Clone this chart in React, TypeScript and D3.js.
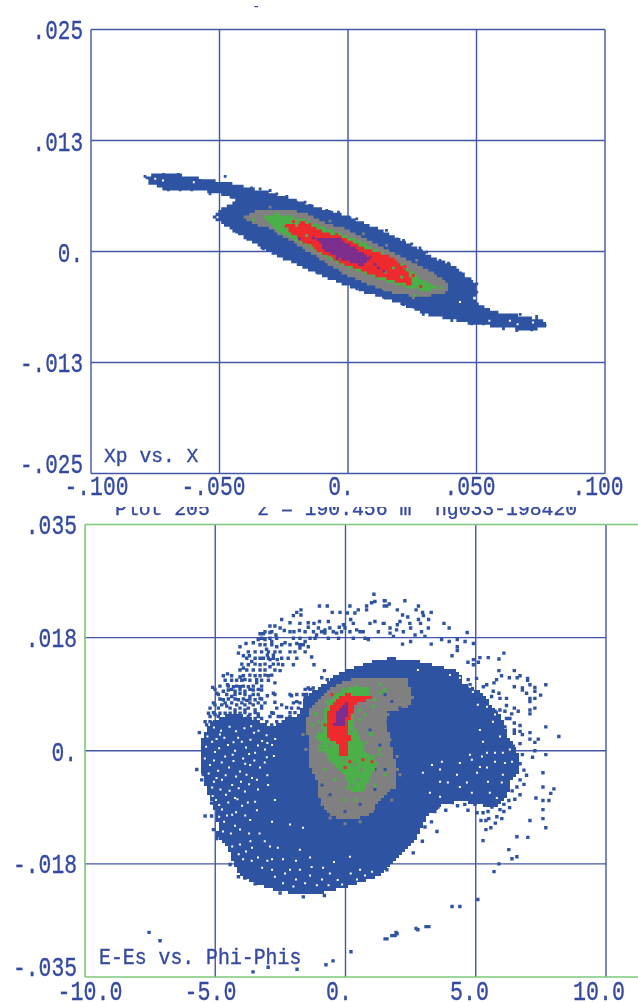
import React from "react";
import * as d3 from "d3";

type P = [number, number];

// ---- Upper panel: Xp vs. X  (x in 1e-3, xp in 1e-4) ----
const topXTicks = [-100, -50, 0, 50, 100];
const topXLabels = ["-.100", "-.050", "0.", ".050", ".100"];
const topXLabelCentres = [96.5, 213.5, 341, 470, 598];
const topYTicks = [250, 125, 0, -125, -250];
const topYLabels = [".025", ".013", "0.", "-.013", "-.025"];

const topBlue: P[] = [[-79.6,84.5],[-73.2,88.2],[-65.4,86.7],[-56.3,81.8],[-47.2,78],[-40.7,73.2],[-30.4,66.8],[-22.6,60.4],[-12.2,49.9],[-3.1,42.4],[5.9,33],[16.3,19.9],[25.4,6.8],[33.2,-6.4],[42.3,-17.7],[50.1,-38.3],[48.9,-55.2],[57.9,-68.3],[66.9,-72],[75.9,-77.7],[77.3,-85.2],[70.8,-89],[57.9,-85.2],[47.5,-81.4],[38.4,-75.8],[29.3,-70.2],[19,-57.1],[6,-45.8],[-4.4,-34.5],[-14.8,-21.4],[-26.5,-6.4],[-34.2,4.8],[-40.7,16.1],[-47.2,27.4],[-52.4,38.6],[-49.8,48.1],[-43.3,57.4],[-49.8,65],[-58.9,68.7],[-70.5,68.7],[-77,76.2]];
const topGrey: P[] = [[-40.7,38.6],[-35.5,46.2],[-26.5,48.1],[-17.4,44.3],[-9.6,33],[-0.5,25.5],[8.6,12.4],[17.6,-0.8],[26.7,-13.9],[35.8,-28.9],[39.7,-38.3],[38.4,-45.8],[29.3,-51.5],[19,-47.7],[8.6,-38.3],[-1.8,-25.1],[-12.2,-6.4],[-22.6,12.4],[-30.4,25.5],[-36.8,31.2]];
const topGreen: P[] = [[-33.6,40.5],[-27.7,42.4],[-17.4,36.8],[-8.3,25.5],[0.8,16.1],[9.8,3],[19,-10.1],[26.7,-27],[32.6,-38.3],[35.8,-42],[29.3,-43.9],[20.2,-38.3],[8.6,-27],[-1.8,-15.8],[-10.9,-2.6],[-20,12.4],[-27.7,23.6]];
const topRed: P[] = [[-24.5,31.2],[-17.4,33],[-10.9,23.6],[-1.8,16.1],[7.3,3],[17,-6.4],[22.8,-21.4],[25.4,-38.3],[19,-34.5],[8.6,-25.1],[-1.8,-13.9],[-10.9,-0.8],[-18.7,12.4],[-23.2,23.6]];
const topPurple: P[] = [[-12.2,14.3],[-4.4,16.1],[3.4,3],[8.6,-8.2],[6,-15.8],[-1.8,-10.1],[-8.3,-0.8]];

const topBlueDots: P[] = [[-79,84.5],[-71.8,86.7],[-66,86.7],[-47.8,84.5],[-42,73.2],[-37.5,71.7],[-34.2,70.6],[-30.3,68.7],[-23.8,62],[-16.7,55.6],[-10.9,48.1],[-6.3,44.3],[-3.7,44.3],[3.4,36.8],[10.5,25.5],[21.6,12.4],[28,4.1],[39.1,-13.1],[44.9,-25.1],[50.1,-45.8],[45.5,-58.9],[67,-70.9],[73.4,-73.2],[76.7,-83.3],[71.5,-88.2],[65.7,-89],[48.1,-81.4],[40.4,-77.7],[29.3,-70.9],[21.6,-59.7],[17.7,-55.2],[11.2,-49.5],[3.4,-42],[-1.8,-34.5],[-7,-27],[-14.1,-19.5],[-27.1,-4.5],[-40.1,15.4],[-43.3,21.8],[-69.9,69.5],[-60.8,69.5],[-53.7,65],[-75.7,85.6],[-73.8,76.2],[-65.3,69.5],[-57.6,80],[-52.4,79.2],[-45.9,75.5],[-39.4,70.6],[-33.6,63.1],[-27.7,65],[-20,55.6],[-14.8,51.8],[-8.3,46.2],[0.8,37.9],[8.6,25.5],[15,23.7],[19,14.3],[24.8,8.6],[30.6,-0.7],[35.8,-10.1],[41.7,-19.5],[47.5,-30.8],[50.1,-36.4],[13.8,-51.4],[-12.2,-23.3],[-20,-10.1],[-23.8,-8.2],[-32.9,3],[-36.8,12.4],[29.3,-64.5],[25.4,-62.7],[20.9,-55.2],[39.7,-74],[52.7,-81.4],[60.5,-87.1],[71.5,-87.1],[73.4,-75.8],[57.9,-68.3],[51.4,-64.5]];
const topWhiteDots: P[] = [[-50.8,38.7],[-45.9,58.2],[43.6,-57],[-72,80],[-60,78],[55,-78],[66,-82],[72,-80],[-75,82],[63,-78]];
const topGreyDots: P[] = [[-30.3,50],[-7,34.2],[6,19.9],[15,6.9],[26.7,-10.1],[13.8,-42],[3.4,-30.8],[-7,-13.9],[25.4,-52.2]];
const topGreenDots: P[] = [[-36.8,35.7],[36.5,-40.9],[26.1,-49.5],[-20,29.3],[-16.1,18],[-8.3,4.1],[6.6,8.6],[14.4,-23.3],[20.9,-28.9],[17.7,-18.4],[-14.8,6.8],[-7,-6.4]];
const topRedDots: P[] = [[-21.2,33.8],[-24.1,28.2],[23.5,-33.4],[25.4,-27],[22.2,-16.9],[28.3,-39.4],[-4.4,19.2],[-14.8,30.4],[-3,-9],[2,-12]];
const topPurpleDots: P[] = [[-13.5,15.4],[-18.9,14.3],[-9.6,4.1],[-4.1,-8.2],[10.5,-14.6],[14,-22.1],[11.8,-18.4],[4.7,-4.5],[8.6,-6.4]];

// ---- Lower panel: E-Es vs. Phi-Phis  (phi as drawn, dE in 1e-4) ----
const botXTicks = [-10, -5, 0, 5, 10];
const botXLabels = ["-10.0", "-5.0", "0.", "5.0", "10.0"];
const botXLabelCentres = [90, 210.5, 339, 469.5, 599];
const botYTicks = [350, 175, 0, -175, -350];
const botYLabels = [".035", ".018", "0.", "-.018", "-.035"];

const botBlue: P[] = [[-1.86,52.5],[-1.63,68],[-1.55,83.5],[-0.98,98.9],[-0.48,114.4],[0.06,125.2],[0.94,137.6],[1.71,143.7],[2.59,140.6],[3.36,132.9],[4.39,122.1],[4.51,105.1],[5.05,94.3],[5.54,74.2],[6.04,47.9],[6.24,21.6],[6.58,1.5],[6.7,-29.4],[6.39,-44.8],[6.2,-71.1],[5.81,-86.6],[5.16,-84],[4.4,-78],[3.74,-84],[3.13,-102],[2.86,-126.7],[2.48,-148.4],[1.98,-168.5],[1.44,-188.6],[0.94,-199.4],[0.06,-210.2],[-0.86,-219.5],[-1.63,-222.6],[-2.51,-217.9],[-3.55,-204],[-4.05,-194.7],[-4.32,-173.1],[-4.55,-148.4],[-4.93,-134.5],[-4.89,-111.3],[-5.12,-80.4],[-5.28,-64.9],[-5.51,-34],[-5.58,-18.5],[-5.51,17],[-5.2,43.3],[-4.43,58.7],[-3.66,52.5],[-3.28,43.3],[-2.78,37.1],[-2.24,51]];
const botGrey: P[] = [[-1.55,43],[-1.36,63],[-0.98,83],[-0.48,99],[0.17,110],[1.06,114],[2.36,113],[2.59,83],[2.4,68],[1.65,60],[1.6,40],[1.78,2],[2.01,-29],[1.9,-57],[1.52,-68],[0.82,-102],[-0.21,-107],[-0.71,-96],[-0.98,-76],[-1.09,-45],[-1.36,-25],[-1.4,9]];
const botGreen: P[] = [[-0.86,48],[-0.71,74],[-0.21,91],[0.29,99],[0.94,97],[0.94,83],[0.36,74],[0.29,43],[0.56,17],[0.94,-9],[1.21,-19],[1.06,-34],[0.67,-65],[0.17,-63],[0.06,-45],[-0.33,-25],[-0.71,-9],[-1.06,22]];
const botRed: P[] = [[-0.67,60],[-0.48,74],[0.06,90],[0.29,83],[0.94,87],[1.06,82],[0.44,74],[0.1,43],[0.17,17],[0.06,-9],[-0.29,-9],[-0.29,9],[-0.67,20]];
const botPurple: P[] = [[-0.29,66],[0.06,74],[0.06,53],[-0.1,36],[-0.48,36],[-0.33,51]];

const haloLeft: P[] = [[1.09,242],[1,229],[1.13,231],[1.52,232],[1.58,224],[0.81,224],[0.81,218],[0.49,218],[0.36,213],[0.17,224],[0.07,213],[-0.21,214],[-0.51,214],[-0.7,224],[-1,224],[-1.71,218],[-1.71,210],[-1.87,214],[-2,209],[-2.45,203],[-2.9,193],[-2.71,193],[-2.13,198],[-1.75,197],[-1.43,198],[-1.21,197],[-0.66,200],[-1,200],[0.2,203],[0.3,197],[-0.08,195],[-0.24,191],[-0.6,190],[-0.79,187],[-1.04,190],[-1.43,191],[-1.77,186],[-1.98,184],[-2.35,186],[-2.51,190],[-2.67,179],[-2.9,183],[-3.28,181],[-3.15,181],[-3.35,172],[-3.09,172],[-2.83,169],[-2.32,167],[-3.82,166],[-4.05,161],[-3.28,164],[-3.03,157],[-2.64,161],[-2.13,164],[-1.87,166],[-1.55,169],[-1.36,174],[-1.11,179],[-0.79,182],[-0.34,182],[-0.02,190],[0.43,187],[0.68,184],[0.94,197],[1.13,200],[1.45,197],[1.26,184],[0.88,172],[-3.54,167],[-4.11,151],[-3.92,147],[-3.69,147],[-3,148],[-2.77,148],[-2.51,153],[-2.13,153],[-1.75,159],[-1.43,161],[-1.3,145],[-1.21,133],[-1.87,143],[-2,133],[-2.41,133],[-2.62,141],[-2.9,141],[-3.15,143],[-3.6,138],[-3.73,133],[-3.92,128],[-3.28,133],[-2.9,130],[-2.51,124],[-0.81,124],[-0.91,113],[-0.7,110],[-4.69,116],[-4.53,119],[-4.62,109],[-4.53,102],[-4.05,114],[-3.86,110],[-3.67,117],[-3.41,110],[-3.09,117],[-2.83,117],[-5.1,98],[-4.94,89],[-4.69,92],[-4.3,99],[-4.05,99],[-3.73,99],[-3.41,105],[-2.71,105],[-1.43,97],[-1.55,84],[-1.24,97],[-2.77,89],[-3,85],[-2.07,85],[-1.87,76],[-2.71,75],[-2.45,71],[-2.26,67],[-3.28,81],[-3.67,84],[-4.05,89],[-4.37,84],[-4.69,79],[-5.01,71],[-4.56,69],[-4.18,71],[-3.86,71],[-3.54,71],[-3.22,69],[-4.82,58],[-4.43,58],[-4.05,58],[-3.67,56],[-3.35,57],[-2.77,58],[-2.58,53],[-2.26,50],[-5.26,58],[-5.01,56],[-4.69,48],[-4.3,45],[-3.92,45],[-3.54,45],[-3.22,50],[-5.39,45],[-5.07,43],[-5.61,28],[-5.2,35],[-4.75,37],[-4.5,94],[-4.24,92],[-3.86,92],[-3.54,94],[-3.22,94],[-4.75,71],[-4.37,74],[-4.11,79],[-3.79,78],[-3.47,79],[-4.43,50],[-4.11,50],[-3.79,50],[-3.47,50],[-4.24,63],[-3.86,63],[-3.47,63],[-4.62,58],[-4.88,45],[-4.56,40],[-4.24,38],[-3.92,39],[-3.6,40],[-3.28,40]];
const haloDense: P[] = [[-3.09,184],[-2.83,184],[-2.13,184],[-1.55,184],[-1.23,184],[-0.92,184],[-0.47,184],[-0.15,184],[0.17,184],[0.56,184],[-3.22,174],[-2.9,174],[-2.64,174],[-2,174],[-1.75,174],[-1.17,174],[-0.66,174],[-0.27,174],[0.3,174],[0.75,174],[-3.09,164],[-2.83,164],[-2.45,164],[-1.75,164],[-1.62,164],[-3.73,153],[-3.47,153],[-3.22,153],[-2.96,153],[-2.71,153],[-1.94,153],[-1.55,153],[-3.79,143],[-3.47,143],[-3.28,143],[-2.96,143],[-2.77,143],[-2.45,143],[-2.2,143],[-3.98,134],[-3.47,134],[-3.09,134],[-2.77,134],[-2.58,134],[-4.05,125],[-3.79,125],[-3.54,125],[-3.28,125],[-3.09,125],[-2.71,125],[-4.37,116],[-3.92,116],[-3.47,116],[-3.28,116],[-2.96,116],[-4.37,109],[-4.18,109],[-3.98,109],[-3.67,109],[-3.22,109],[-2.96,109],[-4.82,100],[-4.5,100],[-4.18,100],[-3.92,100],[-3.54,100],[-3.22,100],[-5.01,95],[-4.37,95],[-4.05,95],[-3.67,95],[-3.35,95],[-1.55,95],[-1.36,95],[-4.88,87],[-4.56,87],[-4.24,87],[-3.86,87],[-3.54,87],[-3.35,87],[-2.71,87],[-2.13,87],[-1.87,87],[-1.62,87],[-1.49,87],[-4.82,80],[-4.5,80],[-4.24,80],[-3.92,80],[-3.67,80],[-3.22,80],[-1.55,80],[-5.07,74],[-4.62,74],[-3.98,74],[-3.67,74],[-3.35,74],[-3.09,74],[-2,74],[-1.75,74],[-5.2,66],[-4.88,66],[-4.43,66],[-4.05,66],[-3.73,66],[-3.22,66],[-2.64,66],[-2.07,66],[-1.81,66],[-5.07,59],[-4.24,59],[-3.86,59],[-3.47,59],[-2.83,59],[-2.13,59],[-1.94,59],[-5.2,53],[-4.88,53],[-4.5,53],[-4.11,53],[-3.73,53],[-3.35,53],[-2.9,53],[-2.45,53],[-2.13,53],[-5.2,45],[-4.5,45],[-4.11,45],[-3.73,45],[-3.35,45],[-3.02,45],[-2.64,45],[-2.39,45],[-5.33,40],[-5.01,40],[-4.37,40],[-4.05,40],[-3.09,40],[-2.83,40],[-2.51,40]];
const haloRight: P[] = [[1.49,232],[1.68,227],[2.28,232],[1.49,224],[2.8,224],[1.99,218],[2.71,218],[2.96,214],[3.29,214],[2.19,210],[2.39,207],[2.8,203],[3.19,203],[2.99,209],[1.48,197],[1.99,195],[2.09,200],[2.47,197],[2.88,197],[2.5,190],[3.78,197],[3.98,190],[3.18,190],[1.71,190],[1.96,187],[2.22,184],[2.67,179],[2.92,184],[3.05,177],[1.84,177],[1.71,182],[4.67,183],[3.69,172],[3.98,169],[4.29,172],[4.59,169],[4.91,166],[2.19,165],[2.5,169],[3.29,165],[4.29,161],[4.29,155],[4.09,147],[6.08,151],[5.16,144],[5.48,144],[5.89,142],[4.7,137],[4.91,141],[5.1,137],[4.91,133],[5.89,124],[6.48,124],[5.99,116],[6.59,113],[6.29,113],[6.7,116],[6.99,112],[6.99,109],[5.8,110],[5.7,105],[7.69,102],[7.08,102],[7.27,98],[6.48,99],[6.79,97],[6.79,94],[6.95,89],[7.27,92],[7.49,86],[5.67,92],[5.89,89],[5.61,84],[5.93,81],[6.18,81],[7.08,81],[7.27,81],[7.08,76],[6.18,70],[7.27,66],[7.08,63],[6.48,66],[6.63,61],[7.08,57],[6.38,57],[6.18,50],[6.48,43],[6.7,39],[7.69,37],[6.48,32],[6.7,30],[6.48,27],[7.08,28],[6.79,25],[8.19,22],[7.4,18],[7.08,18],[7.27,13],[6.7,11],[6.44,7],[7.27,0],[6.79,-6],[7.69,-6],[7.18,-10],[6.7,-20],[6.59,-24],[5.03,112],[4.71,110],[4.78,102],[5.29,99],[5.42,102],[5.29,81],[5.54,68],[5.74,61],[5.93,63],[6.12,61],[6.31,50],[5.86,50],[6.12,37],[6.25,17],[6.38,7]];
const lowerRight: P[] = [[3.43,-94],[3.55,-87],[4.51,-73],[4.58,-83],[4.97,-83],[5.05,-96],[5.28,-96],[5.47,-94],[5.62,-87],[5.81,-102],[5.93,-91],[6.08,-94],[6.08,-83],[6.27,-77],[6.58,-56],[6.7,-45],[6.7,-68],[5.39,-108],[5.39,-122],[5.58,-119],[5.28,-139],[3.51,-125],[6.27,-153],[6.39,-167],[6.58,-164],[6.58,-133],[7,-134],[7.08,-108],[7.58,-105],[7.69,-119],[7.58,-91],[7.58,-77],[7.81,-77],[7.88,-66],[8,-59],[7.58,-56],[7.31,-73],[7.58,-34],[6.7,-20],[6.58,-25],[5.89,-175],[5.7,-187],[5.08,-230],[4.09,-241],[4.39,-241],[3.2,-272],[2.78,-277],[1.98,-283],[1.9,-286],[1.59,-291],[1.59,-184],[4.2,-72],[4.3,-85],[4.7,-92],[3.85,-92],[4.1,-80],[4.9,-72],[5.5,-105],[6,-105],[5.2,-108],[5.75,-112],[6.3,-88],[6.5,-75],[6.4,-62],[6.85,-52],[6.95,-38],[6.85,-30],[3.3,-110],[3.05,-118],[2.95,-140],[2.6,-158]];
const bottomStray: P[] = [[-7.54,-281],[-7.12,-294],[-3.55,-342],[-2.97,-335],[-1.86,-338],[-0.75,-331],[-0.48,-325],[0.21,-311],[1.52,-291],[1.78,-286],[1.94,-281],[2.71,-275],[3.09,-272]];
const leftEdge: P[] = [[-5.71,-29],[-5.46,-37],[-5.39,-101],[-5.14,-101],[-5.07,-122],[-4.94,-136],[-4.43,-176],[-4.11,-195],[-3.86,-197],[-3.6,-192],[-3.47,-206],[-2.51,-220],[-1.62,-226],[-0.81,-224],[-5.2,-65],[-5.14,-81],[-5.52,-45]];
const botWhite: P[] = [[-5.12,14],[-4.82,25],[-4.51,9],[-4.12,20],[-3.82,5],[-3.51,28],[-3.2,15],[-5.01,-2],[-4.62,-9],[-4.24,0],[-3.93,-12],[-3.47,-3],[-3.09,2],[-2.82,9],[-5.2,-22],[-4.89,-31],[-4.47,-26],[-4.05,-32],[-3.66,-22],[-3.28,-26],[-4.74,-45],[-4.35,-53],[-5.12,-57],[-4.01,-48],[-3.59,-42],[-4.59,-68],[-4.97,-76],[-4.24,-73],[-3.86,-63],[-3.36,-60],[-4.74,-91],[-4.35,-99],[-3.97,-85],[-4.66,-110],[-4.24,-116],[-3.66,-107],[-4.05,-145],[-3.82,-156],[-3.59,-150],[-3.36,-165],[-2.9,-148],[-3.93,-168],[-3.2,-181],[-2.82,-184],[-2.71,-195],[-2.32,-190],[-1.9,-199],[-2.13,-184],[-1.75,-184],[-2.82,-168],[-1.36,-193],[-0.9,-199],[-0.86,-181],[-0.13,-207],[0.56,-184],[1.02,-187],[0.44,-199],[-1.75,-153],[-1.36,-165],[-0.44,-172],[0.17,-164],[-2.97,-53],[-2.71,-76],[-3.47,-79],[-2.82,-110],[-2.13,-114],[-1.63,-119],[2.78,125],[4.01,117],[4.39,113],[4.78,99],[4.89,91],[5.08,71],[5.43,68],[5.74,56],[5.66,45],[5.93,22],[5.16,32],[3.32,-22],[3.7,-17],[4.39,-19],[4.78,-6],[4.85,-14],[5.24,-9],[5.43,-3],[5.74,-3],[5.74,-17],[6.04,-3],[6.31,2],[5.28,14],[6.39,-17],[6.12,-19],[5.16,-25],[2.97,-34],[3.63,-29],[3.93,-49],[3.63,-48],[4.28,-37],[4.66,-49],[5.05,-34],[5.43,-26],[5.47,-48],[6,-49],[6.04,-37],[3.24,-65],[3.63,-71],[4.39,-56],[4.85,-65],[5.54,-65],[5.81,-73]];
const botWhiteLeft: P[] = [[-5.05,36],[-4.78,31],[-4.45,37],[-4.2,30],[-3.88,35],[-3.62,38],[-3.34,31],[-3.03,24],[-5.3,22],[-4.95,18],[-4.65,20],[-4.3,13],[-3.98,14],[-3.65,17],[-3.36,8],[-3,12],[-2.7,18],[-5.35,6],[-4.85,4],[-4.33,-6],[-3.7,-5],[-3.02,-10],[-5.4,-12],[-5.05,-15],[-4.75,-18],[-4.3,-16],[-3.85,-20],[-3.5,-15],[-3.1,-18],[-2.75,-8],[-5.25,-35],[-4.95,-42],[-4.6,-38],[-4.2,-40],[-3.8,-37],[-3.4,-45],[-3,-38],[-5.05,-48],[-4.8,-60],[-4.45,-62],[-4.1,-58],[-3.7,-52],[-5.1,-70],[-4.85,-84],[-4.5,-80],[-4.15,-75],[-3.75,-80],[-4.85,-102],[-4.55,-100],[-4.2,-95],[-3.85,-100],[-3.4,-92],[-4.7,-125],[-4.4,-128],[-4.05,-122],[-3.7,-128],[-3.3,-128],[-4.35,-148],[-3.65,-140],[-3.1,-140],[-2.6,-150],[-4.1,-160],[-3.6,-170],[-3,-170],[-2.4,-168],[-1.9,-170],[-1.3,-180],[-0.6,-190],[0.2,-190],[0.75,-193],[-2.4,-205],[-2,-210],[-1.55,-205],[-1.1,-208],[-0.65,-208],[-0.3,-200]];
const botGreyDots: P[] = [[1.9,94],[2.17,90],[2.47,79],[1.63,56],[1.71,17],[1.98,-9],[2.09,-37],[1.78,-76],[1.02,-94],[0.56,-110],[-0.02,-113],[-0.59,-104],[-0.9,-83],[-1.21,-32],[-1.63,25],[-1.52,2]];
const botBlueOnGrey: P[] = [[1.78,76],[2.09,66],[1.52,87],[1.63,45],[1.32,9],[1.13,-29],[1.52,-29],[1.13,-60],[0.56,-83],[-0.02,-94],[-0.59,-68],[-0.9,-53],[-1.17,-60],[0.94,32]];
const botGreenDots: P[] = [[-1.25,40],[-1.13,56],[1.13,79],[1.32,102],[1.52,94],[0.75,56],[1.02,25],[1.32,2],[-0.02,-76],[0.4,-76],[-0.4,-45],[-0.79,-29],[-0.98,2],[1.52,-37],[1.13,-53],[-1.17,58],[-1.04,45],[-1.11,22],[-0.98,7],[-0.85,2],[-0.6,-14],[-0.21,-29],[0.17,-40],[0.43,-55],[0.04,-58],[0.81,-24],[1.07,-9],[1.32,-6],[0.81,12],[0.94,27],[0.56,48],[0.56,63],[1.07,68],[0.81,92],[0.43,100],[-0.08,95],[-0.47,87],[-0.72,76],[1.32,89],[1.45,92]];
const botGreyHoles: P[] = [[-0.02,-14],[0.36,-22],[-0.21,9],[0.75,2],[-0.59,9],[0.25,-53],[0.48,-45],[0.25,30],[-0.9,30],[0.6,-30]];
const botRedDots: P[] = [[-0.02,-26],[0.17,-17],[0.67,-14],[-0.52,87],[-0.79,40],[1.02,-17]];

const COLORS = { blue: "#2f52a3", grey: "#808080", green: "#4cb04a", red: "#ee2a2f", purple: "#7b2e8e", line: "#4456a6", text: "#34499f", frame: "#7cc878" };
const FONT = "'Liberation Mono', 'DejaVu Sans Mono', monospace";

// Staircase fill of a polygon on the plotter's pixel grid, as one path.
function cells(poly: P[], sx: (v: number) => number, sy: (v: number) => number, step: number): string {
  const pts = poly.map(([a, b]) => [sx(a), sy(b)] as [number, number]);
  const xs = pts.map((p) => p[0]);
  const ys = pts.map((p) => p[1]);
  const [x0, x1] = [Math.floor(d3.min(xs)! / step), Math.ceil(d3.max(xs)! / step)];
  const [y0, y1] = [Math.floor(d3.min(ys)! / step), Math.ceil(d3.max(ys)! / step)];
  let d = "";
  for (const j of d3.range(y0, y1)) {
    let start: number | null = null;
    for (const i of d3.range(x0, x1 + 1)) {
      const inside = d3.polygonContains(pts, [(i + 0.5) * step, (j + 0.5) * step]);
      if (inside && start === null) start = i;
      if (!inside && start !== null) {
        d += `M${start * step} ${j * step}H${i * step}V${(j + 1) * step}H${start * step}Z`;
        start = null;
      }
    }
  }
  return d;
}

function dots(list: P[], sx: (v: number) => number, sy: (v: number) => number, size: number): string {
  return list
    .map(([a, b]) => `M${sx(a) - size / 2} ${sy(b) - size / 2}h${size}v${size}h${-size}Z`)
    .join("");
}

function Label({ x, y, s, w, size, anchor = "start" }: { x: number; y: number; s: string; w: number; size: number; anchor?: string }) {
  const len = s.length * w;
  const left = anchor === "end" ? x - len : anchor === "middle" ? x - len / 2 : x;
  return (
    <text x={left} y={y} fontFamily={FONT} fontSize={size} fill={COLORS.text} stroke={COLORS.text} strokeWidth={0.35} textLength={len} lengthAdjust="spacingAndGlyphs" style={{ whiteSpace: "pre" }}>
      {s}
    </text>
  );
}

export default function App() {
  const tx = d3.scaleLinear().domain([-100, 100]).range([91, 605]);
  const ty = d3.scaleLinear().domain([250, -250]).range([29.5, 473.5]);
  const bx = d3.scaleLinear().domain([-10, 10]).range([85, 606]);
  const by = d3.scaleLinear().domain([350, -350]).range([524.5, 977]);
  const T = 2.8;
  const B = 3;
  const D = 3.4;

  const topY = [39, 150.5, 261.5, 371.5, 473];
  const botY = [534, 647, 760.5, 873, 976];

  return (
    <svg width={638} height={1003} viewBox="0 0 638 1003" style={{ position: "absolute", left: 0, top: 0, display: "block", background: "#fff" }}>
      <defs>
        <filter id="soft" x="0" y="0" width="638" height="1003" filterUnits="userSpaceOnUse">
          <feGaussianBlur stdDeviation="0.4" />
        </filter>
        <filter id="softText" x="0" y="0" width="638" height="1003" filterUnits="userSpaceOnUse">
          <feGaussianBlur stdDeviation="0.3" />
        </filter>
        <clipPath id="cutTitle">
          <rect x={100} y={507} width={500} height={12} />
        </clipPath>
      </defs>

      {/* upper panel grid */}
      <g stroke={COLORS.line} strokeWidth={1.4} fill="none">
        {topXTicks.map((t) => (
          <line key={t} x1={tx(t)} x2={tx(t)} y1={ty(250)} y2={ty(-250)} />
        ))}
        {topYTicks.map((t) => (
          <line key={t} x1={tx(-100)} x2={tx(100)} y1={ty(t)} y2={ty(t)} />
        ))}
      </g>

      {/* lower panel grid */}
      <g stroke={COLORS.line} strokeWidth={1.4} fill="none">
        {botXTicks.slice(1).map((t) => (
          <line key={t} x1={bx(t)} x2={bx(t)} y1={by(350)} y2={by(-350)} />
        ))}
        {botYTicks.slice(1, 4).map((t) => (
          <line key={t} x1={bx(-10)} x2={bx(10)} y1={by(t)} y2={by(t)} />
        ))}
      </g>
      <g stroke={COLORS.frame} strokeWidth={1.6} fill="none">
        <line x1={bx(-10)} x2={638} y1={by(350)} y2={by(350)} />
        <line x1={bx(-10)} x2={638} y1={by(-350)} y2={by(-350)} />
        <line x1={bx(-10)} x2={bx(-10)} y1={by(350)} y2={by(-350)} />
      </g>

      {/* upper panel marks */}
      <g filter="url(#soft)">
        <path fill={COLORS.blue} d={cells(topBlue, tx, ty, T) + dots(topBlueDots, tx, ty, T)} />
        <path fill="#fff" d={dots(topWhiteDots, tx, ty, 2)} />
        <path fill={COLORS.grey} d={cells(topGrey, tx, ty, T) + dots(topGreyDots, tx, ty, T)} />
        <path fill={COLORS.green} d={cells(topGreen, tx, ty, T) + dots(topGreenDots.slice(0, 3), tx, ty, T)} />
        <path fill={COLORS.red} d={cells(topRed, tx, ty, T) + dots(topRedDots, tx, ty, T)} />
        <path fill={COLORS.green} d={dots(topGreenDots.slice(3), tx, ty, T)} />
        <path fill={COLORS.purple} d={cells(topPurple, tx, ty, T) + dots(topPurpleDots, tx, ty, T)} />
      </g>

      {/* lower panel marks */}
      <g filter="url(#soft)">
        <path fill={COLORS.blue} d={cells(botBlue, bx, by, B) + dots(haloLeft, bx, by, D) + dots(haloDense, bx, by, D) + dots(haloRight, bx, by, D) + dots(lowerRight, bx, by, D) + dots(bottomStray, bx, by, D) + dots(leftEdge, bx, by, D)} />
        <path fill="#fff" d={dots(botWhite, bx, by, 2) + dots(botWhiteLeft, bx, by, 2)} />
        <path fill={COLORS.grey} d={cells(botGrey, bx, by, B) + dots(botGreyDots, bx, by, B)} />
        <path fill={COLORS.blue} d={dots(botBlueOnGrey, bx, by, B)} />
        <path fill={COLORS.green} d={cells(botGreen, bx, by, B) + dots(botGreenDots, bx, by, B)} />
        <path fill={COLORS.grey} d={dots(botGreyHoles, bx, by, B)} />
        <path fill={COLORS.red} d={cells(botRed, bx, by, B) + dots(botRedDots, bx, by, B)} />
        <path fill={COLORS.purple} d={cells(botPurple, bx, by, B)} />
      </g>

      {/* text */}
      <g filter="url(#softText)">
        <text x={252} y={11} fontFamily={FONT} fontSize={14} fill={COLORS.text}>-</text>
        {topYLabels.map((s, i) => (
          <Label key={s} x={83} y={topY[i]} s={s} w={12.6} size={28} anchor="end" />
        ))}
        {topXLabels.map((s, i) => (
          <Label key={s} x={topXLabelCentres[i]} y={495} s={s} w={12.8} size={28} anchor="middle" />
        ))}
        <Label x={104} y={462} s="Xp vs. X" w={11.8} size={21} />
        <g clipPath="url(#cutTitle)">
          <Label x={115} y={515} s="Plot 205    z = 190.456 m  ng033-198420" w={11.85} size={21} />
        </g>
        {botYLabels.map((s, i) => (
          <Label key={s} x={77} y={botY[i]} s={s} w={12.8} size={28} anchor="end" />
        ))}
        {botXLabels.map((s, i) => (
          <Label key={s} x={botXLabelCentres[i]} y={1000} s={s} w={13} size={28} anchor="middle" />
        ))}
        <Label x={99} y={964} s="E-Es vs. Phi-Phis" w={11.9} size={22} />
      </g>
    </svg>
  );
}
